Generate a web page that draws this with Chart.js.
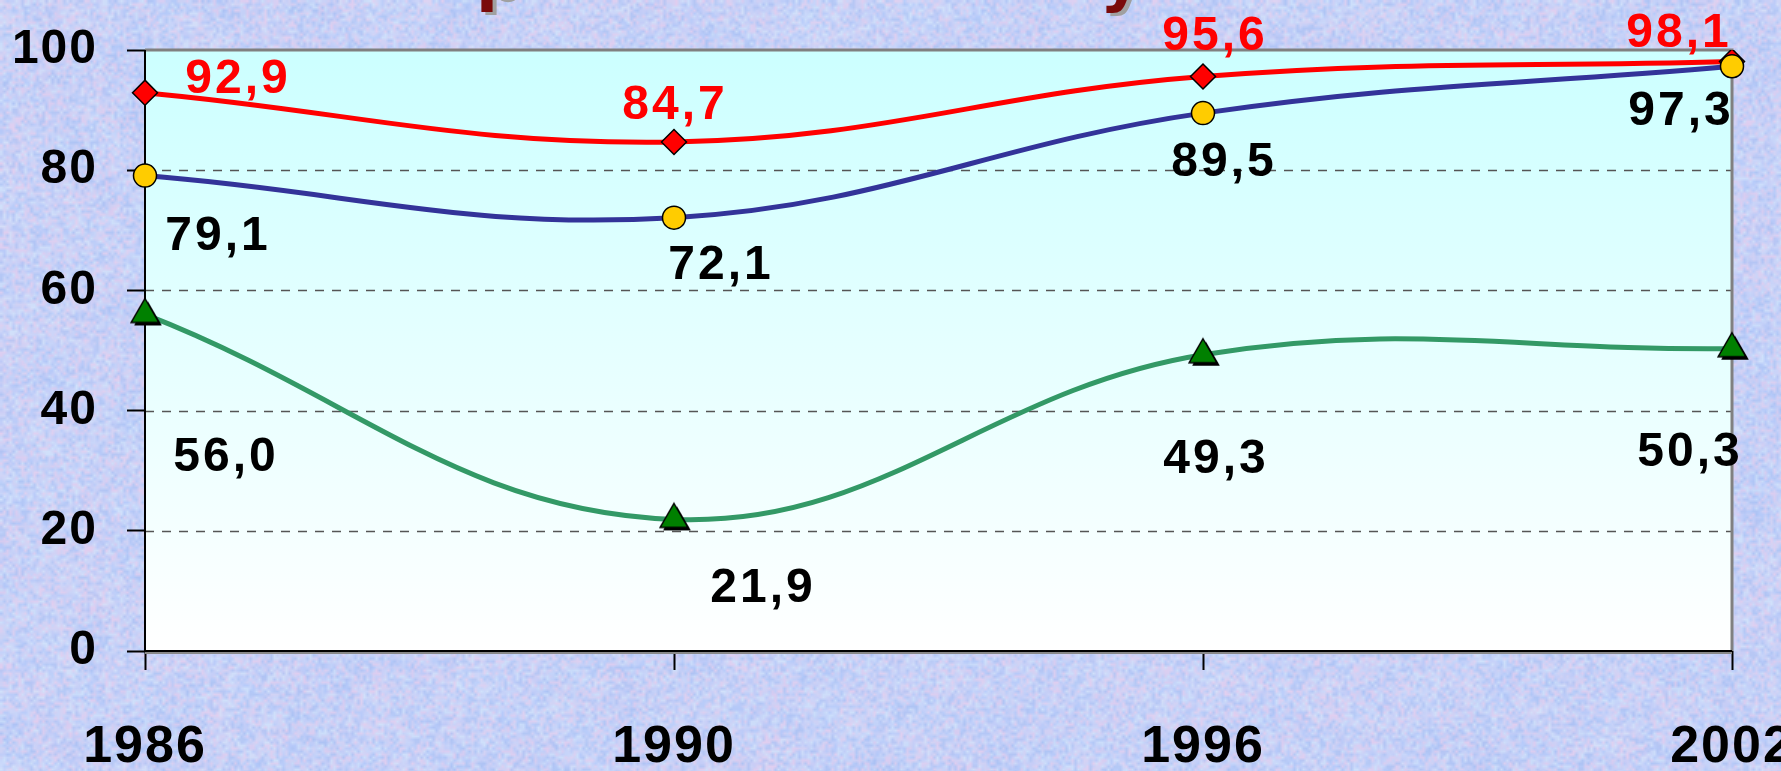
<!DOCTYPE html>
<html>
<head>
<meta charset="utf-8">
<script src="https://cdn.jsdelivr.net/npm/chart.js@4.4.1/dist/chart.umd.min.js"></script>
<style>
  html, body { margin: 0; padding: 0; overflow: hidden; }
  #wrap { position: relative; width: 1781px; height: 771px; }
  #wrap canvas { position: absolute; left: 0; top: 0; }
</style>
</head>
<body>
<div id="wrap">
  <canvas id="bg" width="1781" height="771"></canvas>
  <canvas id="chart" width="1781" height="771"></canvas>
</div>
<script>
const years = ['1986', '1990', '1996', '2002'];
const redSeries = [92.9, 84.7, 95.6, 98.1];
const blueSeries = [79.1, 72.1, 89.5, 97.3];
const greenSeries = [56.0, 21.9, 49.3, 50.3];
const yTicks = [0, 20, 40, 60, 80, 100];

// label offsets from each point, px (dx, dy of the digits' centre)
const redLabelOffsets = [[93, -17], [1, -40], [12, -43], [-53, -31]];
const blueLabelOffsets = [[73, 57], [47, 44], [21, 46], [-51, 42]];
const greenLabelOffsets = [[81, 140], [89, 66], [13, 101], [-42, 100]];

const W = 1781, H = 771;
const FONT = '"Liberation Sans", Arial, sans-serif';

// pastel mottled backdrop
function rng(seed) {
  return function () {
    seed |= 0; seed = seed + 0x6D2B79F5 | 0;
    let t = Math.imul(seed ^ seed >>> 15, 1 | seed);
    t = t + Math.imul(t ^ t >>> 7, 61 | t) ^ t;
    return ((t ^ t >>> 14) >>> 0) / 4294967296;
  };
}
function paintBackground() {
  const c = document.getElementById('bg');
  const g = c.getContext('2d');
  const rand = rng(1986);
  const palette = [[178, 200, 250], [196, 206, 248], [214, 210, 244], [230, 206, 238], [210, 228, 252], [168, 192, 244], [200, 214, 250]];
  g.fillStyle = 'rgb(198,210,246)';
  g.fillRect(0, 0, W, H);
  [[26, 0.55], [8, 0.5], [3, 0.6]].forEach(([cell, alpha]) => {
    const sw = Math.ceil(W / cell) + 1, sh = Math.ceil(H / cell) + 1;
    const small = document.createElement('canvas');
    small.width = sw; small.height = sh;
    const sg = small.getContext('2d');
    const img = sg.createImageData(sw, sh);
    for (let i = 0; i < sw * sh; i++) {
      const p = palette[Math.floor(rand() * palette.length)];
      img.data[i * 4] = p[0]; img.data[i * 4 + 1] = p[1]; img.data[i * 4 + 2] = p[2]; img.data[i * 4 + 3] = 255;
    }
    sg.putImageData(img, 0, 0);
    g.globalAlpha = alpha;
    g.imageSmoothingEnabled = true;
    g.drawImage(small, 0, 0, sw * cell, sh * cell);
  });
  g.globalAlpha = 1;
}
paintBackground();

// green triangle marker with a dark drop shadow
function triangleMarker() {
  const c = document.createElement('canvas');
  c.width = 48; c.height = 48;
  const g = c.getContext('2d');
  const r = 16, cx = 24, cy = 24;
  const tri = (dx, dy) => {
    g.beginPath();
    g.moveTo(cx + dx, cy - r + dy);
    g.lineTo(cx + r * 0.866 + dx, cy + r / 2 + dy);
    g.lineTo(cx - r * 0.866 + dx, cy + r / 2 + dy);
    g.closePath();
  };
  tri(3, 3); g.fillStyle = '#000'; g.fill();
  tri(0, 0); g.fillStyle = '#008000'; g.fill();
  g.lineWidth = 1.5; g.strokeStyle = '#000'; g.stroke();
  return c;
}

const fmt = (v) => v.toFixed(1).replace('.', ',');

const framePlugin = {
  id: 'frame',
  beforeDraw(chart) {
    const { ctx, chartArea: a } = chart;
    ctx.letterSpacing = '2px';
    const grad = ctx.createLinearGradient(0, a.top, 0, a.bottom);
    grad.addColorStop(0, '#CCFFFF');
    grad.addColorStop(1, '#FFFFFF');
    ctx.fillStyle = grad;
    ctx.fillRect(a.left, a.top, a.right - a.left, a.bottom - a.top);
    // dashed grid
    const y = chart.scales.y;
    ctx.save();
    ctx.strokeStyle = '#555';
    ctx.lineWidth = 1.5;
    ctx.setLineDash([9, 8]);
    yTicks.slice(1, -1).forEach((v) => {
      const py = Math.round(y.getPixelForValue(v)) + 0.5;
      ctx.beginPath(); ctx.moveTo(a.left, py); ctx.lineTo(a.right, py); ctx.stroke();
    });
    ctx.restore();
  },
  beforeDatasetsDraw(chart) {
    const { ctx, chartArea: a } = chart;
    ctx.save();
    ctx.lineWidth = 3;
    ctx.strokeStyle = '#808080';
    ctx.beginPath(); ctx.moveTo(a.left, a.top); ctx.lineTo(a.right, a.top); ctx.lineTo(a.right, a.bottom); ctx.stroke();
    ctx.strokeStyle = '#888';
    ctx.lineWidth = 2;
    ctx.beginPath(); ctx.moveTo(a.left, a.bottom + 2); ctx.lineTo(a.right, a.bottom + 2); ctx.stroke();
    ctx.strokeStyle = '#000';
    ctx.lineWidth = 2;
    ctx.beginPath(); ctx.moveTo(a.left, a.top); ctx.lineTo(a.left, a.bottom); ctx.lineTo(a.right, a.bottom); ctx.stroke();
    ctx.restore();
  },
  afterDatasetsDraw(chart) {
    const { ctx } = chart;
    const sets = [[redSeries, redLabelOffsets, '#FF0000'], [blueSeries, blueLabelOffsets, '#000'], [greenSeries, greenLabelOffsets, '#000']];
    ctx.save();
    ctx.font = 'bold 48px ' + FONT;
    ctx.letterSpacing = '3px';
    ctx.textAlign = 'center';
    ctx.textBaseline = 'alphabetic';
    sets.forEach(([vals, offs, color]) => {
      const ds = chart.data.datasets.findIndex((d) => d.data === vals);
      const meta = chart.getDatasetMeta(ds);
      vals.forEach((v, i) => {
        const el = meta.data[i];
        ctx.fillStyle = color;
        ctx.fillText(fmt(v), el.x + offs[i][0], el.y + offs[i][1] + 17);
      });
    });
    // cut-off title, only descenders show
    ctx.font = 'bold 64px "DejaVu Sans", sans-serif';
    ctx.letterSpacing = '0px';
    ctx.textAlign = 'left';
    [['р', 476], ['у', 1100]].forEach(([ch, x]) => {
      ctx.fillStyle = '#A0A0A0';
      ctx.fillText(ch, x + 4, 2);
      ctx.fillStyle = '#7A0A0A';
      ctx.fillText(ch, x, -1);
    });
    ctx.restore();
  }
};

const chart = new Chart(document.getElementById('chart'), {
  type: 'line',
  data: {
    labels: years,
    datasets: [
      {
        data: greenSeries,
        borderColor: '#339966', borderWidth: 5, tension: 0.4,
        pointStyle: triangleMarker(), pointRadius: 16
      },
      {
        data: blueSeries,
        borderColor: '#333399', borderWidth: 5, tension: 0.4,
        pointStyle: 'circle', pointRadius: 11.5,
        pointBackgroundColor: '#FFCC00', pointBorderColor: '#000', pointBorderWidth: 1.5
      },
      {
        data: redSeries,
        borderColor: '#FF0000', borderWidth: 5, tension: 0.4,
        pointStyle: 'rectRot', pointRadius: 12.5,
        pointBackgroundColor: '#FF0000', pointBorderColor: '#000', pointBorderWidth: 1.5
      }
    ]
  },
  options: {
    responsive: false,
    animation: false,
    layout: { padding: { top: 50, right: 49, left: 0, bottom: 0 } },
    plugins: { legend: { display: false }, tooltip: { enabled: false } },
    scales: {
      x: {
        type: 'category',
        offset: false,
        border: { display: false },
        grid: { drawOnChartArea: false, tickLength: 19, tickColor: '#000', tickWidth: 2 },
        ticks: { color: '#000', font: { family: FONT, size: 52, weight: 'bold' }, padding: 46, maxRotation: 0, autoSkip: false },
        afterFit(s) { s.height = 120; s.paddingLeft = 0; s.paddingRight = 0; }
      },
      y: {
        min: 0, max: 100,
        border: { display: false },
        grid: { drawOnChartArea: false, tickLength: 18, tickColor: '#000', tickWidth: 2 },
        ticks: { color: '#000', font: { family: FONT, size: 48, weight: 'bold' }, padding: 29 },
        afterBuildTicks(s) { s.ticks = yTicks.map((v) => ({ value: v })); },
        afterFit(s) { s.width = 145; s.paddingTop = 0; s.paddingBottom = 0; }
      }
    }
  },
  plugins: [framePlugin]
});
</script>
</body>
</html>
